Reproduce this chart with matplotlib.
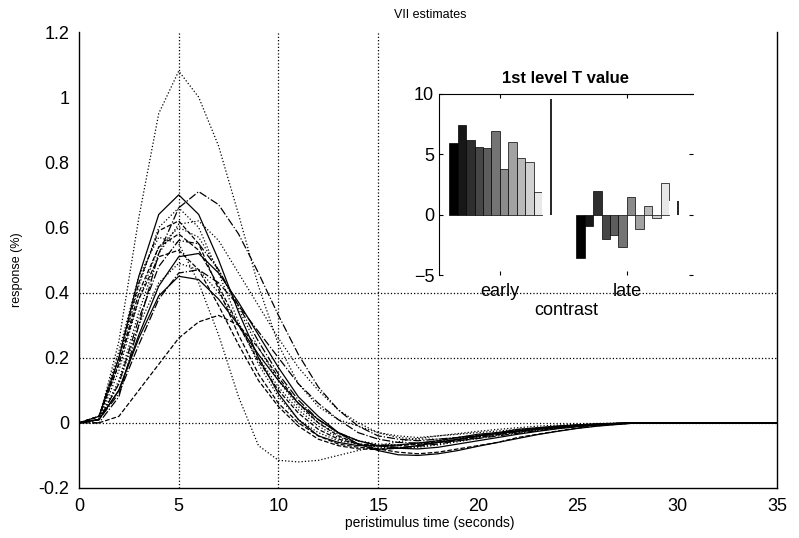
import numpy as np
import matplotlib
matplotlib.use("Agg")
import matplotlib.pyplot as plt

plt.rcParams['font.family'] = ['Liberation Sans', 'DejaVu Sans']

# peristimulus time (s), curves are flat at 0 after 28 s
t = np.arange(0, 29)
t_end = np.arange(29, 36)

# response estimates (%), one list per curve
c1 = [0, 0.01, 0.25, 0.63, 0.95, 1.08, 1.0, 0.85, 0.64, 0.42, 0.24, 0.12, 0.05, 0.01, -0.01, -0.03, -0.04, -0.045, -0.04, -0.035, -0.03, -0.025, -0.02, -0.015, -0.01, -0.007, -0.004, -0.002, 0]
c2 = [0, 0.0, 0.08, 0.3, 0.52, 0.66, 0.71, 0.67, 0.58, 0.46, 0.33, 0.21, 0.11, 0.04, -0.01, -0.04, -0.05, -0.055, -0.05, -0.045, -0.04, -0.03, -0.025, -0.02, -0.015, -0.01, -0.005, -0.002, 0]
c3 = [0, 0.02, 0.2, 0.45, 0.64, 0.7, 0.64, 0.5, 0.34, 0.2, 0.09, 0.01, -0.04, -0.06, -0.07, -0.07, -0.068, -0.062, -0.055, -0.045, -0.035, -0.03, -0.02, -0.015, -0.01, -0.006, -0.003, -0.001, 0]
c4 = [0, 0.01, 0.19, 0.42, 0.6, 0.66, 0.6, 0.46, 0.31, 0.18, 0.08, 0.01, -0.03, -0.055, -0.065, -0.07, -0.068, -0.062, -0.055, -0.045, -0.037, -0.03, -0.022, -0.016, -0.011, -0.007, -0.004, -0.002, 0]
c5 = [0, 0.02, 0.2, 0.43, 0.59, 0.62, 0.55, 0.41, 0.27, 0.15, 0.06, 0.0, -0.04, -0.065, -0.075, -0.08, -0.078, -0.07, -0.06, -0.05, -0.04, -0.032, -0.025, -0.018, -0.012, -0.008, -0.004, -0.002, 0]
c6 = [0, 0.01, 0.16, 0.38, 0.54, 0.6, 0.57, 0.47, 0.35, 0.23, 0.13, 0.05, 0.0, -0.035, -0.055, -0.065, -0.068, -0.065, -0.058, -0.05, -0.04, -0.032, -0.025, -0.018, -0.012, -0.008, -0.004, -0.002, 0]
c7 = [0, 0.02, 0.22, 0.45, 0.57, 0.55, 0.43, 0.27, 0.08, -0.07, -0.115, -0.12, -0.115, -0.1, -0.085, -0.07, -0.058, -0.048, -0.04, -0.033, -0.026, -0.02, -0.015, -0.01, -0.007, -0.004, -0.002, -0.001, 0]
c8 = [0, 0.01, 0.12, 0.32, 0.48, 0.56, 0.55, 0.47, 0.36, 0.25, 0.15, 0.07, 0.01, -0.03, -0.055, -0.07, -0.075, -0.072, -0.065, -0.055, -0.045, -0.036, -0.028, -0.02, -0.014, -0.009, -0.005, -0.002, 0]
c9 = [0, 0.02, 0.18, 0.38, 0.51, 0.53, 0.47, 0.36, 0.24, 0.13, 0.05, -0.01, -0.05, -0.07, -0.08, -0.082, -0.078, -0.07, -0.06, -0.05, -0.04, -0.032, -0.024, -0.017, -0.011, -0.007, -0.004, -0.002, 0]
c10 = [0, 0.01, 0.12, 0.3, 0.43, 0.49, 0.47, 0.4, 0.3, 0.2, 0.11, 0.04, -0.01, -0.045, -0.065, -0.075, -0.078, -0.075, -0.068, -0.058, -0.048, -0.038, -0.03, -0.022, -0.015, -0.01, -0.006, -0.003, 0]
c11 = [0, 0.01, 0.1, 0.26, 0.39, 0.45, 0.44, 0.38, 0.3, 0.21, 0.13, 0.06, 0.01, -0.03, -0.055, -0.07, -0.078, -0.08, -0.075, -0.065, -0.055, -0.045, -0.035, -0.026, -0.018, -0.012, -0.007, -0.003, 0]
c12 = [0, 0.0, 0.02, 0.1, 0.18, 0.26, 0.31, 0.33, 0.3, 0.23, 0.14, 0.06, 0.0, -0.04, -0.065, -0.08, -0.09, -0.095, -0.09, -0.08, -0.07, -0.06, -0.045, -0.035, -0.025, -0.016, -0.009, -0.004, 0]
c13 = [0, 0.01, 0.1, 0.27, 0.42, 0.51, 0.52, 0.46, 0.37, 0.27, 0.17, 0.08, 0.02, -0.03, -0.065, -0.085, -0.098, -0.1, -0.095, -0.085, -0.072, -0.06, -0.048, -0.036, -0.026, -0.017, -0.01, -0.005, 0]
c14 = [0, 0.01, 0.13, 0.34, 0.52, 0.61, 0.62, 0.56, 0.46, 0.36, 0.26, 0.17, 0.1, 0.04, 0.0, -0.03, -0.045, -0.05, -0.05, -0.045, -0.04, -0.033, -0.026, -0.02, -0.014, -0.009, -0.005, -0.002, 0]
c15 = [0, 0.01, 0.09, 0.24, 0.38, 0.46, 0.47, 0.43, 0.36, 0.28, 0.2, 0.12, 0.06, 0.01, -0.03, -0.05, -0.06, -0.062, -0.06, -0.055, -0.048, -0.04, -0.032, -0.024, -0.017, -0.011, -0.006, -0.003, 0]
c16 = [0, 0.02, 0.18, 0.4, 0.54, 0.58, 0.53, 0.42, 0.3, 0.19, 0.1, 0.03, -0.02, -0.05, -0.065, -0.07, -0.07, -0.066, -0.06, -0.052, -0.043, -0.035, -0.027, -0.02, -0.014, -0.009, -0.005, -0.002, 0]
curves = [c1, c2, c3, c4, c5, c6, c7, c8, c9, c10, c11, c12, c13, c14, c15, c16]
styles = [':', '-.', '-', ':', '--', ':', ':', '-.', '--', ':', '-', '--', '-', ':', '-.', '--']

# inset: 1st level T values, 12 sessions per contrast
contrasts = ['early', 'late']
t_early = [5.9, 7.4, 6.2, 5.6, 5.5, 6.9, 3.8, 6.0, 4.7, 4.4, 1.9, 9.6]
t_late = [-3.6, -0.9, 2.0, -2.0, -1.7, -2.7, 1.5, -1.2, 0.7, -0.3, 2.6, 1.1]

fig = plt.figure(figsize=(7.99, 5.38), dpi=100)
ax = fig.add_axes([79/799, 1-488/538, 698/799, 456/538])

for x in [5, 10, 15]:
    ax.axvline(x, color='k', ls=':', lw=0.9)
for y in [0, 0.2, 0.4]:
    ax.axhline(y, color='k', ls=':', lw=0.9)

for c, s in zip(curves, styles):
    y = np.concatenate([c, np.zeros(len(t_end))])
    ax.plot(np.concatenate([t, t_end]), y, color='k', ls=s, lw=0.9)

ax.set_xlim(0, 35)
ax.set_ylim(-0.2, 1.2)
ax.set_xticks(np.arange(0, 36, 5))
ax.set_yticks([-0.2, 0, 0.2, 0.4, 0.6, 0.8, 1, 1.2])
ax.set_yticklabels(['-0.2', '0', '0.2', '0.4', '0.6', '0.8', '1', '1.2'])
ax.tick_params(length=0, labelsize=13, pad=7)
ax.spines['top'].set_visible(False)
for sp in ax.spines.values():
    sp.set_linewidth(1.0)

fig.text(430/799, 1-15/538, 'VII estimates', ha='center', va='center', fontsize=9)
fig.text(430/799, 1-523/538, 'peristimulus time (seconds)', ha='center', va='center', fontsize=10)
fig.text(17/799, 1-270/538, 'response (%)', ha='center', va='center', rotation=90, fontsize=9)

# inset bar chart
ins = fig.add_axes([439/799, 1-275/538, 254/799, 181/538])
ins.patch.set_visible(False)
n = len(t_early)
w = 0.8 / n
grays = np.linspace(0, 1, n)
for i in range(n):
    off = (i - (n - 1) / 2) * w
    col = str(grays[i])
    edge = 'none' if i == n - 1 else 'k'
    ins.bar([1 + off, 2 + off], [t_early[i], t_late[i]], width=w,
            color=col, edgecolor=edge, linewidth=0.5)
    if i == n - 1:
        # the white bars only show their right edge in the original
        ins.vlines([1 + off + w / 2, 2 + off + w / 2], 0,
                   [t_early[i], t_late[i]], color='k', lw=1.2)
ins.set_xlim(0.52, 2.52)
ins.set_ylim(-5, 10)
ins.set_yticks([-5, 0, 5, 10])
ins.set_xticks([1, 2])
ins.set_xticklabels(contrasts)
ins.tick_params(direction='in', length=3, labelsize=13, top=True, right=True)
ins.tick_params(axis='x', pad=6)
ins.set_xlabel('contrast', fontsize=13, labelpad=1)
ins.set_title('1st level T value', fontsize=12, fontweight='bold', pad=8)
ins.spines['bottom'].set_visible(False)
ins.spines['right'].set_visible(False)

fig.savefig('out.png', dpi=100)
